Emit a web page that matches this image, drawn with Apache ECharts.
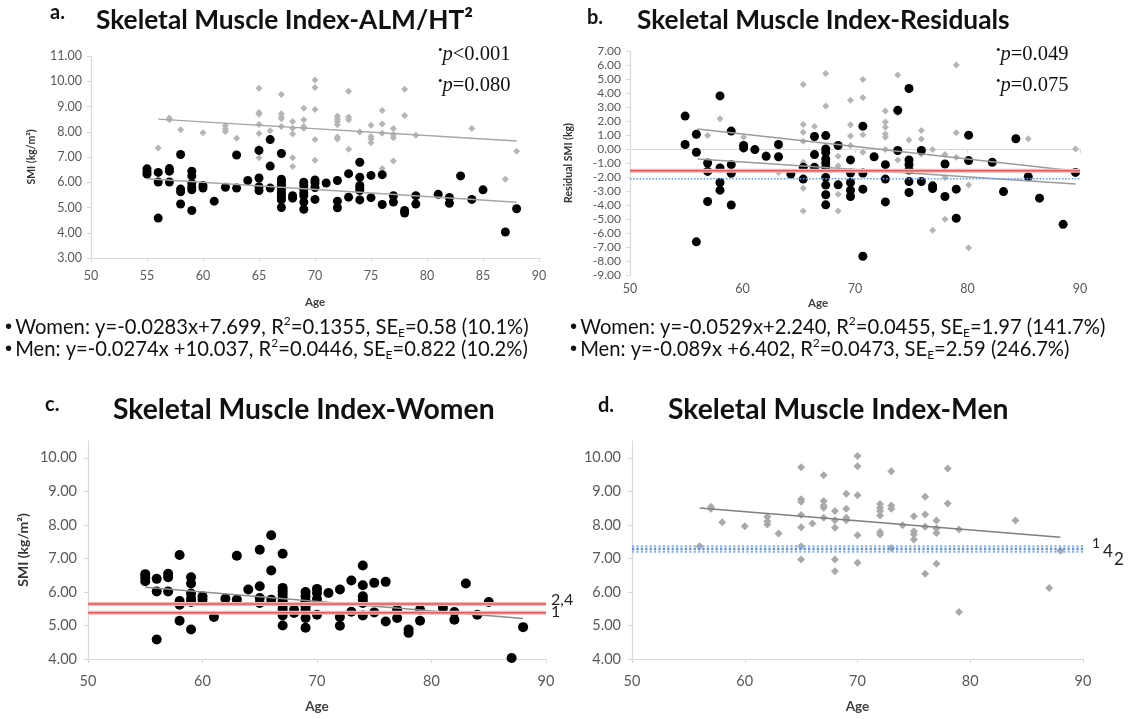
<!DOCTYPE html>
<html><head><meta charset="utf-8">
<script src="https://cdn.jsdelivr.net/npm/echarts@6/dist/echarts.min.js"></script>
<style>html,body{margin:0;padding:0;background:#fff}#c{width:1131px;height:719px}</style>
</head><body><div id="c"></div>
<script>
// ---------- data: women (absolute SMI, kg/m2) ----------
const womenAge = [55,55,55,56,56,56,57,57,57,58,58,58,58,59,59,59,59,59,59,60,60,61,62,63,63,64,65,65,65,65,66,66,66,
  67,67,67,67,67,67,67,67,67,67,67,68,68,69,69,69,69,69,69,69,70,70,70,70,71,72,72,72,73,73,74,74,74,74,74,74,75,75,76,76,77,77,78,78,79,79,81,82,82,83,84,85,87,88];
const womenSMI = [6.53,6.42,6.32,6.39,6.01,4.58,6.54,6.44,6.01,7.10,5.73,5.62,5.14,6.44,6.25,5.95,5.80,5.70,4.88,5.87,5.77,5.25,5.80,7.08,5.77,6.07,7.26,6.17,5.82,5.67,7.69,6.64,5.77,
  7.14,6.12,6.02,5.92,5.82,5.72,5.60,5.50,5.40,5.30,5.00,5.47,5.37,6.00,5.87,5.72,5.57,5.47,5.22,4.93,6.09,5.97,5.79,5.32,5.97,6.07,5.25,4.99,6.34,5.41,6.79,6.20,5.87,5.77,5.67,5.30,6.27,5.39,6.30,5.12,5.47,5.22,4.88,4.78,5.47,5.14,5.52,5.40,5.17,6.25,5.32,5.70,4.03,4.95];
// ---------- data: men (absolute SMI) ----------
const menAge = [56,57,57,58,60,62,62,62,63,65,65,65,65,65,65,65,66,67,67,67,67,67,68,68,68,68,68,69,69,69,69,70,70,70,70,70,72,72,72,72,72,72,73,73,73,73,74,75,75,75,75,76,76,76,76,77,77,77,77,78,78,79,79,84,87,88];
const menSMI = [7.36,8.54,8.48,8.08,7.96,8.24,8.11,8.01,7.74,9.72,8.76,8.69,8.29,7.93,7.36,6.97,8.04,9.48,8.71,8.58,8.51,8.21,8.41,8.14,7.91,6.97,6.62,8.93,8.48,8.21,8.14,10.05,9.75,8.88,7.69,6.87,8.62,8.51,8.41,8.28,7.79,7.71,9.60,8.58,8.48,7.31,7.99,8.26,7.81,7.71,7.56,8.84,8.31,7.94,6.54,8.13,7.89,7.76,6.84,9.68,8.64,7.86,5.40,8.13,6.12,7.23];
// ---------- data: residual SMI (kg) ----------
const resWomenAge = [54.9,54.9,55.9,55.9,55.9,56.9,56.9,56.9,58.0,58.0,58.0,58.0,59.0,59.0,59.0,59.0,60.1,60.1,61.1,62.1,63.2,63.2,64.3,65.4,65.4,66.4,66.4,66.4,
  67.4,67.4,67.4,67.4,67.4,67.4,67.4,67.4,67.4,67.4,68.5,68.5,69.6,69.6,69.6,69.6,69.6,70.7,70.7,70.7,70.7,71.7,72.7,72.7,72.7,73.8,73.8,
  74.8,74.8,74.8,74.8,74.8,74.8,75.9,75.9,76.9,76.9,78.0,78.0,79.0,79.0,80.1,80.1,82.2,83.2,84.3,85.4,86.4,88.5,89.6];
const resWomen = [2.35,0.32,1.05,-0.23,-6.63,-1.00,-1.60,-3.75,3.79,-1.36,-2.39,-2.94,1.28,-1.12,-1.74,-4.00,0.25,0.08,-0.04,-0.52,0.32,-0.55,-1.79,-1.31,-2.15,0.89,-0.40,-1.31,
  0.96,0.00,-0.23,-0.71,-1.00,-1.31,-2.03,-2.58,-3.27,-3.99,0.25,-2.56,-0.78,-1.72,-2.39,-2.94,-3.39,1.63,-1.72,-2.87,-7.66,-0.55,-1.12,-2.15,-3.78,2.76,-0.11,
  4.32,-0.78,-1.12,-1.50,-2.32,-3.11,-0.11,-2.32,-2.63,-2.82,-1.07,-3.39,-2.87,-4.95,0.99,-0.83,-0.95,-3.04,0.73,-1.98,-3.51,-5.38,-1.67];
const resMenAge = [55.9,56.9,58.0,60.1,62.1,63.2,65.4,65.4,65.4,65.4,65.4,65.4,65.4,66.4,66.4,67.4,67.4,67.4,68.5,68.5,68.5,68.5,69.6,69.6,69.6,69.6,69.6,
  70.7,70.7,70.7,70.7,72.7,72.7,72.7,72.7,72.7,72.7,73.8,73.8,73.8,74.8,75.9,75.9,75.9,76.9,76.9,78.0,78.0,78.0,78.0,79.0,79.0,79.0,80.1,80.1,85.4,88.5,89.6];
const resMen = [0.96,0.96,2.16,0.84,-0.35,-1.67,4.60,1.75,1.20,0.56,-0.95,-2.80,-4.43,1.60,0.84,5.40,3.07,0.96,-0.52,-1.19,-3.23,-4.43,3.48,1.73,0.92,0.25,-1.72,
  4.96,3.67,1.01,-0.23,2.71,1.92,1.56,1.08,0.84,-0.04,5.28,2.57,-0.78,0.65,1.32,0.72,-0.35,-0.04,-5.81,-0.40,-1.12,-2.03,-5.02,6.00,1.16,-0.59,-2.58,-7.06,0.73,-5.34,0.00];
// ---------- trend lines (end points) ----------
const trendAWomenX = [55, 88], trendAWomenY = [6.14, 5.21];
const trendAMenX = [56, 88], trendAMenY = [8.50, 7.63];
const trendBWomenX = [56, 89.6], trendBWomenY = [-0.72, -2.50];
const trendBMenX = [56, 89.6], trendBMenY = [1.42, -1.57];
// ---------- reference (cut-off) lines ----------
const refBRed = -1.55, refBBlue = -2.12;
const refCLines = [5.64, 5.38], refCLabels = ['2,4', '1'];
const refDLines = [7.36, 7.28, 7.20], refDLabels = ['1', '4', '2'];
const ageExtent = [50, 90];
const yA = [3, 11], yB = [-9, 7], yCD = [4, 10.5];

const zip = (xs, ys) => xs.map((x, i) => [x, ys[i]]);
const hline = v => [[ageExtent[0], v], [ageExtent[1], v]];

const FONT = 'Lato';
const axisCol = '#d9d9d9', labCol = '#595959';
function xAx(gi, interval, fs, margin, gap, showName) {
  return { gridIndex: gi, type: 'value', min: ageExtent[0], max: ageExtent[1], interval,
    axisLine: { show: true, lineStyle: { color: axisCol, width: 1.2 } },
    axisTick: { show: true, length: 4, lineStyle: { color: axisCol } },
    splitLine: { show: false },
    axisLabel: { color: labCol, fontSize: fs, fontFamily: FONT, margin },
    name: showName ? 'Age' : '', nameLocation: 'middle', nameGap: gap,
    nameTextStyle: { fontWeight: 'bold', fontSize: fs - 1, color: '#404040', fontFamily: FONT } };
}
function yAx(gi, ext, fs, margin, name, nfs, gap) {
  return { gridIndex: gi, type: 'value', min: ext[0], max: ext[1], interval: 1,
    axisLine: { show: true, lineStyle: { color: axisCol, width: 1.2 } },
    axisTick: { show: true, length: 4, lineStyle: { color: axisCol } },
    splitLine: { show: false },
    axisLabel: { color: labCol, fontSize: fs, fontFamily: FONT, margin, showMaxLabel: ext[1] % 1 === 0,
      formatter: v => v.toFixed(2) },
    name, nameLocation: 'middle', nameGap: gap,
    nameTextStyle: { fontWeight: 'bold', fontSize: nfs, color: '#333', fontFamily: FONT } };
}
const sc = (gi, data, color, symbol, size, z) => ({ type: 'scatter', xAxisIndex: gi, yAxisIndex: gi, data,
  symbol, symbolSize: size, itemStyle: { color, opacity: 1 }, z, silent: true });
const ln = (gi, data, color, width, type, z) => ({ type: 'line', xAxisIndex: gi, yAxisIndex: gi, data,
  symbol: 'none', lineStyle: { color, width, type }, z, silent: true, animation: false });

const LFS = 20.2;
const legendRich = {
  t: { fontSize: LFS, fontFamily: FONT, color: '#222', lineHeight: 24 },
  sup: { fontSize: 12, fontFamily: FONT, color: '#222', verticalAlign: 'top', lineHeight: 24, padding: [0, 0, 8, 0] },
  sub: { fontSize: 12, fontFamily: FONT, color: '#222', verticalAlign: 'bottom', lineHeight: 24, padding: [6, 0, 0, 0] },
  bk: { fontSize: LFS, color: '#000', lineHeight: 24 },
  gr: { fontSize: LFS, color: '#bbb', lineHeight: 24 }
};
const legendA1 = '{bk|•} {t|Women: y=-0.0283x+7.699, R}{sup|2}{t|=0.1355, SE}{sub|E}{t|=0.58 (10.1%)}';
const legendA2 = '{gr|•} {t|Men: y=-0.0274x +10.037, R}{sup|2}{t|=0.0446, SE}{sub|E}{t|=0.822 (10.2%)}';
const legendB1 = '{bk|•} {t|Women: y=-0.0529x+2.240, R}{sup|2}{t|=0.0455, SE}{sub|E}{t|=1.97 (141.7%)}';
const legendB2 = '{gr|•} {t|Men: y=-0.089x +6.402, R}{sup|2}{t|=0.0473, SE}{sub|E}{t|=2.59 (246.7%)}';

const pRich = {
  bk: { fontSize: 13, color: '#000', fontFamily: 'Liberation Serif', verticalAlign: 'top', lineHeight: 22 },
  gr: { fontSize: 13, color: '#bbb', fontFamily: 'Liberation Serif', verticalAlign: 'top', lineHeight: 22 },
  i: { fontSize: 20.5, fontStyle: 'italic', fontFamily: 'Liberation Serif', color: '#000', lineHeight: 22 },
  n: { fontSize: 20.5, fontFamily: 'Liberation Serif', color: '#000', lineHeight: 22 }
};
const txt = (x, y, text, style) => ({ type: 'text', x, y, silent: true,
  style: Object.assign({ text, fill: '#111', fontFamily: FONT, verticalAlign: 'middle', align: 'left' }, style) });

const titleAB = { fontSize: 26.3, fontWeight: 'bold', fill: '#111' };
const titleCD = { fontSize: 28.3, fontWeight: 'bold', fill: '#111' };
const letterStyle = { fontSize: 20, fontWeight: 'bold', fill: '#111' };

const series = [
  // panel a
  sc(0, zip(menAge, menSMI), '#b5b5b5', 'diamond', 7, 2),
  sc(0, zip(womenAge, womenSMI), '#000', 'circle', 9, 3),
  ln(0, zip(trendAWomenX, trendAWomenY), '#a6a6a6', 1.5, 'solid', 4),
  ln(0, zip(trendAMenX, trendAMenY), '#a6a6a6', 1.5, 'solid', 4),
  // panel b
  sc(1, zip(resMenAge, resMen), '#b5b5b5', 'diamond', 7, 2),
  sc(1, zip(resWomenAge, resWomen), '#000', 'circle', 9, 3),
  ln(1, zip(trendBWomenX, trendBWomenY), '#9a9a9a', 1.5, 'solid', 4),
  ln(1, zip(trendBMenX, trendBMenY), '#9a9a9a', 1.5, 'solid', 4),
  ln(1, hline(refBRed), '#f4b6b6', 4, 'solid', 5),
  ln(1, hline(refBRed), '#e05c5c', 1.6, 'solid', 6),
  ln(1, hline(refBBlue), '#6d9eeb', 1.6, 'dotted', 5),
  // panel c
  sc(2, zip(womenAge, womenSMI), '#000', 'circle', 10, 3),
  ln(2, zip(trendAWomenX, trendAWomenY), '#8c8c8c', 1.5, 'solid', 4)
];
refCLines.forEach(v => {
  series.push(ln(2, hline(v), '#f4b6b6', 4, 'solid', 5));
  series.push(ln(2, hline(v), '#e05c5c', 1.6, 'solid', 6));
});
// panel d
series.push(sc(3, zip(menAge, menSMI), '#a9a9a9', 'diamond', 8, 2));
series.push(ln(3, zip(trendAMenX, trendAMenY), '#7f7f7f', 1.5, 'solid', 4));
refDLines.forEach((v, i) => {
  series.push(ln(3, hline(v), i === 1 ? '#5b8fd6' : '#8db3e6', 2.2, 'dotted', 5));
});

const chart = echarts.init(document.getElementById('c'), null, { renderer: 'canvas' });
const graphic = [
  txt(50, 13, 'a.', letterStyle),
  txt(96, 21, 'Skeletal Muscle Index-ALM/HT²', titleAB),
  txt(587, 18, 'b.', letterStyle),
  txt(637, 21, 'Skeletal Muscle Index-Residuals', titleAB),
  txt(45, 405, 'c.', letterStyle),
  txt(113, 410, 'Skeletal Muscle Index-Women', titleCD),
  txt(598, 406, 'd.', letterStyle),
  txt(668, 410, 'Skeletal Muscle Index-Men', titleCD),
  txt(438, 55, '{bk|•}{i|p}{n|<0.001}', { rich: pRich }),
  txt(438, 86, '{gr|•}{i|p}{n|=0.080}', { rich: pRich }),
  txt(996, 55, '{bk|•}{i|p}{n|=0.049}', { rich: pRich }),
  txt(996, 86, '{gr|•}{i|p}{n|=0.075}', { rich: pRich }),
  txt(818, 303, 'Age', { fontSize: 11.5, fontWeight: 'bold', fill: '#404040', align: 'center' }),
  txt(5, 327, legendA1, { rich: legendRich }),
  txt(5, 349, legendA2, { rich: legendRich }),
  txt(570, 327, legendB1, { rich: legendRich }),
  txt(570, 349, legendB2, { rich: legendRich })
];
chart.setOption({
  animation: false,
  backgroundColor: '#fff',
  grid: [
    { left: 91, top: 56, width: 448, height: 202, outerBoundsMode: 'none' },
    { left: 630, top: 51, width: 450, height: 224, outerBoundsMode: 'none' },
    { left: 88, top: 441, width: 458, height: 218, outerBoundsMode: 'none' },
    { left: 632, top: 441, width: 451, height: 218, outerBoundsMode: 'none' }
  ],
  xAxis: [xAx(0, 5, 12.5, 11, 38, true), xAx(1, 10, 12.5, 7, 27, false), xAx(2, 10, 14.5, 15, 41, true), xAx(3, 10, 14.5, 15, 41, true)],
  yAxis: [
    yAx(0, yA, 12.5, 9, 'SMI (kg/m²)', 10.5, 54),
    yAx(1, yB, 12, 9, 'Residual SMI (kg)', 10.5, 56),
    yAx(2, yCD, 14.5, 11, 'SMI (kg/m²)', 14, 58),
    yAx(3, yCD, 14.5, 11, '', 14, 50)
  ],
  series,
  graphic
});
// cut-off labels placed at the right end of each reference line, via the axis scales
const cOff = [[5, -4], [5, -1]];
refCLines.forEach((v, i) => {
  const p = chart.convertToPixel({ gridIndex: 2 }, [ageExtent[1], v]);
  graphic.push(txt(p[0] + cOff[i][0], p[1] + cOff[i][1], refCLabels[i], { fontSize: 16, fill: '#222' }));
});
const dOff = [[9, -3], [20, 3], [31, 8]];
refDLines.forEach((v, i) => {
  const p = chart.convertToPixel({ gridIndex: 3 }, [ageExtent[1], v]);
  graphic.push(txt(p[0] + dOff[i][0], p[1] + dOff[i][1], refDLabels[i], { fontSize: i === 0 ? 14 : 17, fill: '#222' }));
});
chart.setOption({ graphic });
</script></body></html>
